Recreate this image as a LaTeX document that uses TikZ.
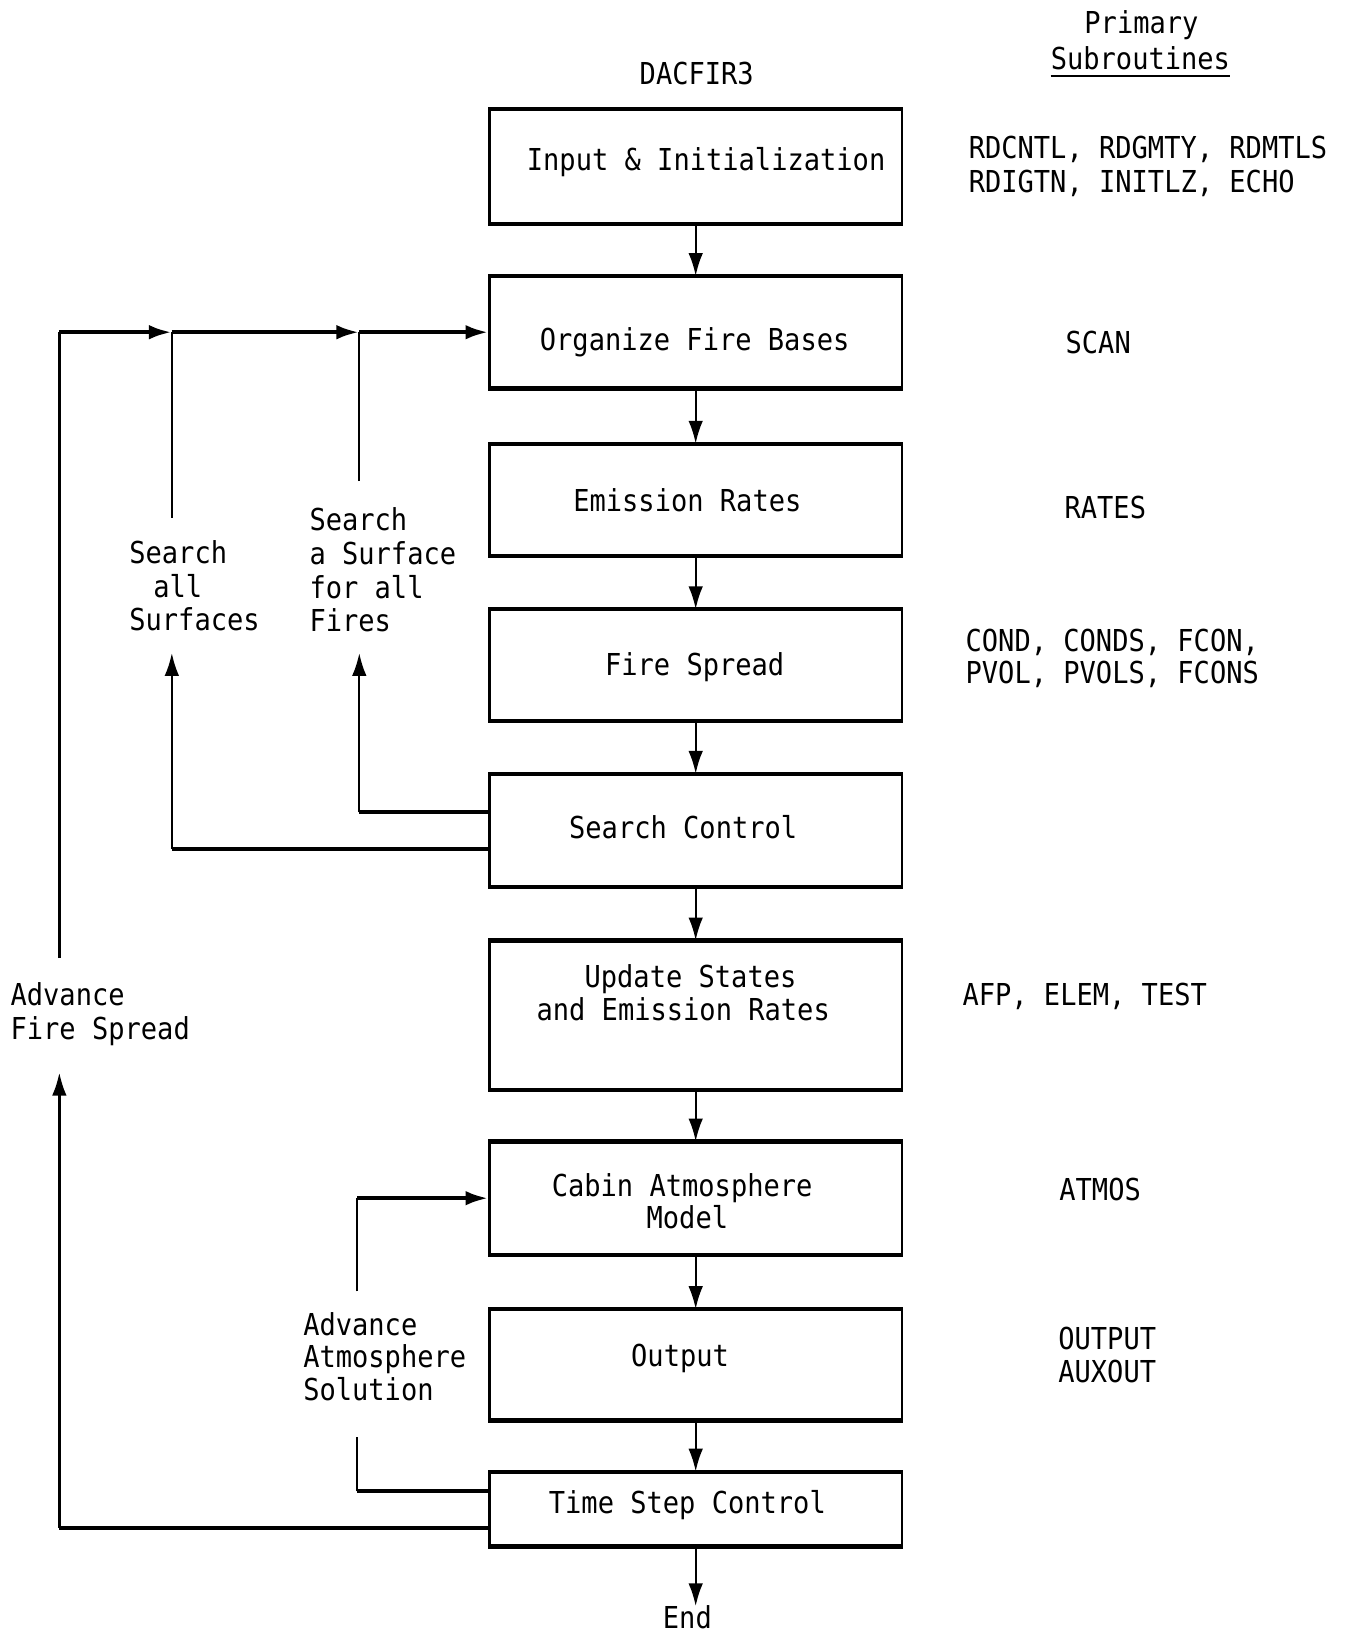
\documentclass[tikz,border=0pt]{standalone}
\usepackage{fontspec}
\newfontfamily\twfont[FakeStretch=0.896]{DejaVu Sans Mono}
\usetikzlibrary{arrows.meta}
\begin{document}
\begin{tikzpicture}[x=1pt, y=-1pt,
  font=\twfont\fontsize{29}{32}\selectfont,
  box/.style={draw, line width=2pt, minimum width=396pt, inner sep=0pt,
    append after command={(\tikzlastnode.north west) edge[draw, line width=4pt] (\tikzlastnode.north east)
      (\tikzlastnode.south west) edge[draw, line width=4pt] (\tikzlastnode.south east)}},
  txt/.style={inner sep=0pt, text height=21pt, text depth=0pt},
  lt/.style={txt, anchor=west},
  thinl/.style={line width=2.2pt},
  heavy/.style={line width=4pt},
  arr/.style={-{Latex[length=22pt,width=14pt]}}]
\useasboundingbox (0,0) rectangle (1292,1568);

% boxes
\node[box, minimum height=108pt] (inp) at (668,160) {};
\node[box, minimum height=106pt] (ofb) at (668,319) {};
\node[box, minimum height=106pt] (emr) at (668,480) {};
\node[box, minimum height=105pt] (fsp) at (668,638.5) {};
\node[box, minimum height=107pt] (scn) at (668,797.5) {};
\node[box, minimum height=142pt] (upd) at (668,975) {};
\node[box, minimum height=107pt] (cab) at (668,1150.5) {};
\node[box, minimum height=105pt] (out) at (668,1310.5) {};
\node[box, minimum height=70pt] (tsc) at (668,1449) {};

% box texts
\node[txt] (tinp) at (678,153) {Input \& Initialization};
\node[txt] (tofb) at (667,326) {Organize Fire Bases};
\node[txt] (temr) at (660,481) {Emission Rates};
\node[txt] (tfsp) at (667,638) {Fire Spread};
\node[txt] (tscn) at (656,795) {Search Control};
\node[txt] (tupda) at (663,938) {Update States};
\node[txt] (tupdb) at (656,969) {and Emission Rates};
\node[txt] (tcaba) at (655,1138) {Cabin Atmosphere};
\node[txt] (tcabb) at (660,1169) {Model};
\node[txt] (tout) at (653,1302) {Output};
\node[txt] (ttsc) at (660,1443) {Time Step Control};
\node[txt] (end) at (660,1553) {End};

% headings
\node[txt] (dac) at (669,71) {DACFIR3};
\node[txt] (pri) at (1096,22) {Primary};
\node[txt] (sub) at (1095,56) {Subroutines};
\draw[line width=1.8pt] ([yshift=-6pt]sub.south west) -- ([yshift=-6pt]sub.south east);

% subroutine lists
\node[lt] (r1a) at (930,142) {RDCNTL, RDGMTY, RDMTLS};
\node[lt] (r1b) at (930,174) {RDIGTN, INITLZ, ECHO};
\node[lt] (r2) at (1023,329) {SCAN};
\node[lt] (r3) at (1022,487) {RATES};
\node[lt] (r4a) at (927,615) {COND, CONDS, FCON,};
\node[lt] (r4b) at (927,646) {PVOL, PVOLS, FCONS};
\node[lt] (r6) at (924,955) {AFP, ELEM, TEST};
\node[lt] (r7) at (1017,1142) {ATMOS};
\node[lt] (r8a) at (1016,1285) {OUTPUT};
\node[lt] (r8b) at (1016,1317) {AUXOUT};

% loop labels
\node[lt] (sa1) at (124,531) {Search};
\node[lt] (sa2) at (147,563) {all};
\node[lt] (sa3) at (124,595) {Surfaces};
\node[lt] (sf1) at (297,499) {Search};
\node[lt] (sf2) at (297,532) {a Surface};
\node[lt] (sf3) at (297,564) {for all};
\node[lt] (sf4) at (297,596) {Fires};
\node[lt] (af1) at (10,955) {Advance};
\node[lt] (af2) at (10,988) {Fire Spread};
\node[lt] (aa1) at (291,1272) {Advance};
\node[lt] (aa2) at (291,1303) {Atmosphere};
\node[lt] (aa3) at (291,1334) {Solution};

% main flow
\draw[thinl, arr] (inp) -- (ofb);
\draw[thinl, arr] (ofb) -- (emr);
\draw[thinl, arr] (emr) -- (fsp);
\draw[thinl, arr] (fsp) -- (scn);
\draw[thinl, arr] (scn) -- (upd);
\draw[thinl, arr] (upd) -- (cab);
\draw[thinl, arr] (cab) -- (out);
\draw[thinl, arr] (out) -- (tsc);
\draw[thinl, arr] (tsc.south) -- (tsc.south |- end.north);

% loop coordinates
\coordinate (j1) at (57,319);
\coordinate (j2) at (165,319);
\coordinate (j3) at (345,319);
\coordinate (afTop) at (57,920);
\coordinate (afBot) at (57,1030);
\coordinate (afCor) at (57,1467);
\coordinate (tsA) at (470,1467);
\coordinate (saTop) at (165,497);
\coordinate (saBot) at (165,627);
\coordinate (saCor) at (165,815);
\coordinate (scA) at (470,815);
\coordinate (sfTop) at (345,462);
\coordinate (sfBot) at (345,627);
\coordinate (sfCor) at (345,780);
\coordinate (scB) at (470,780);
\coordinate (aaTop) at (343,1240);
\coordinate (aaCor) at (343,1150.5);
\coordinate (aaBot) at (343,1380);
\coordinate (aaCor2) at (343,1432);
\coordinate (tsB) at (470,1432);

% advance fire spread loop
\draw[heavy] (tsA) -- (afCor);
\draw[thinl, arr] (afCor) -- (afBot);
\draw[thinl] (afTop) -- (j1);
\draw[heavy, arr] (j1) -- (j2);
\draw[heavy, arr] (j2) -- (j3);
\draw[heavy, arr] (j3) -- (ofb.west);
\draw[thinl] (saTop) -- (j2);
\draw[thinl] (sfTop) -- (j3);

% search loops
\draw[heavy] (scA) -- (saCor);
\draw[thinl, arr] (saCor) -- (saBot);
\draw[heavy] (scB) -- (sfCor);
\draw[thinl, arr] (sfCor) -- (sfBot);

% atmosphere loop
\draw[heavy] (tsB) -- (aaCor2);
\draw[thinl] (aaCor2) -- (aaBot);
\draw[thinl] (aaTop) -- (aaCor);
\draw[heavy, arr] (aaCor) -- (cab.west);
\end{tikzpicture}
\end{document}
